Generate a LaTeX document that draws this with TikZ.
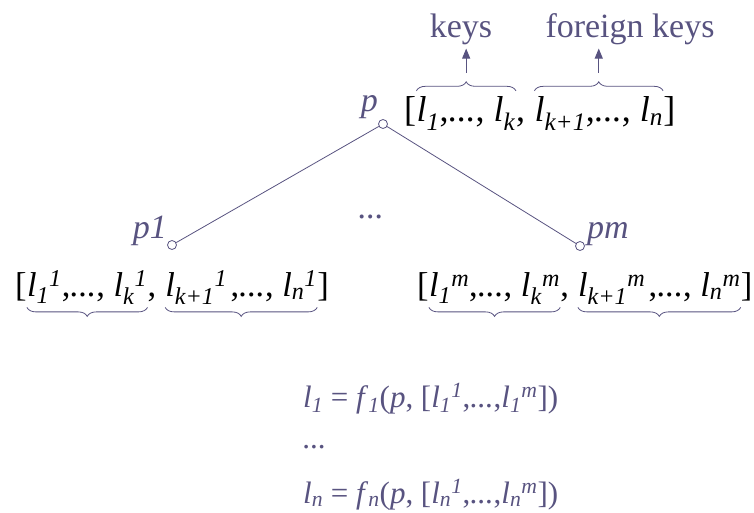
\documentclass[tikz,border=0pt]{standalone}
\usepackage{fontspec}
\setmainfont{Liberation Serif}
\usetikzlibrary{arrows.meta,positioning,decorations.pathreplacing}
\definecolor{ink}{RGB}{88,83,128}

\newcommand\lv[1]{\textit{l}\textsubscript{\textit{#1}}}
\newcommand\lvv[2]{\textit{l}\textsubscript{\textit{#1}}\textsuperscript{\textit{#2}}}
\newcommand\fv[1]{\textit{f}\textsubscript{\textit{#1}}}
\newcommand\dts{\textit{...}}

\begin{document}
\begin{tikzpicture}[x=1pt, y=-1pt,
  lbl/.style={text=ink, inner sep=0pt, font=\fontsize{34}{40}\selectfont},
  rec/.style={inner sep=0pt, font=\fontsize{36}{42}\selectfont},
  subrec/.style={inner sep=0pt, font=\fontsize{34.5}{40}\selectfont},
  eqn/.style={text=ink, inner sep=0pt, anchor=base west, font=\fontsize{31}{37}\selectfont},
  hole/.style={circle, draw=ink, fill=white, line width=0.8pt, inner sep=0pt, minimum size=9pt},
  link/.style={draw=ink, line width=0.8pt},
  brc/.style={draw=ink, line width=0.8pt, decorate, decoration={brace, amplitude=9pt, raise=#1}},
  arr/.style={-{Triangle[length=10pt,width=8pt]}, draw=ink, fill=ink, line width=1pt},
]
\useasboundingbox (0,0) rectangle (754,513);

% Parent record
\node[rec, anchor=base west] (t0) at (404,122) {[};
\node[rec, base right=0pt of t0] (t1) {\lv{1},\dts,~\lv{k}};
\node[rec, base right=0pt of t1] (t2) {,\kern.25em};
\node[rec, base right=0pt of t2] (t3) {\lv{k+1},\dts,~\lv{n}};
\node[rec, base right=0pt of t3] (t4) {]};
\node[lbl, anchor=base east] (p) at (378,112) {\textit{p}};
\node[hole] (pc) at (383,124) {};

\node[lbl, anchor=base] (keys) at (461,38) {keys};
\node[lbl, anchor=base] (fkeys) at (630,38) {foreign keys};
\draw[brc=6pt] (t1.north west) -- node[coordinate] (kt) {} (t1.north east);
\draw[brc=6pt] (t3.north west) -- node[coordinate] (ft) {} (t3.north east);
\draw[arr] ([yshift=24pt]kt) -- ([yshift=-3pt]keys.south -| kt);
\draw[arr] ([yshift=24pt]ft) -- ([yshift=-3pt]fkeys.south -| ft);

% Child records
\node[lbl, anchor=base east] (p1) at (167,238) {\textit{p1}};
\node[hole] (p1c) at (172,245) {};
\node[lbl, anchor=base west] (pm) at (587,238) {\textit{pm}};
\node[hole] (pmc) at (580,246) {};
\node[lbl, anchor=base] (gap) at (371,218) {\dts};

\node[subrec, anchor=base west] (a0) at (15,296) {[};
\node[subrec, base right=0pt of a0] (a1) {\lvv{1}{1},\dts,~\lvv{k}{1}};
\node[subrec, base right=0pt of a1] (a2) {,\kern.25em};
\node[subrec, base right=0pt of a2] (a3) {\lvv{k+1}{1}\kern.1em,\dts,~\lvv{n}{1}};
\node[subrec, base right=0pt of a3] (a4) {]};
\draw[brc=3pt] (a1.south east) -- (a1.south west);
\draw[brc=3pt] (a3.south east) -- (a3.south west);

\node[subrec, anchor=base west] (b0) at (417,296) {[};
\node[subrec, base right=0pt of b0] (b1) {\lvv{1}{m},\dts,~\lvv{k}{m}};
\node[subrec, base right=0pt of b1] (b2) {,\kern.25em};
\node[subrec, base right=0pt of b2] (b3) {\lvv{k+1}{m}\kern.1em,\dts,~\lvv{n}{m}};
\node[subrec, base right=0pt of b3] (b4) {]};
\draw[brc=3pt] (b1.south east) -- (b1.south west);
\draw[brc=3pt] (b3.south east) -- (b3.south west);

\draw[link] (pc) -- (p1c);
\draw[link] (pc) -- (pmc);

% Aggregation rules
\node[eqn] (e1) at (303,407) {\lv{1} = \fv{1}(\textit{p}, [\lvv{1}{1},\dts,\lvv{1}{m}])};
\node[eqn] (e2) at (303,448) {\dts};
\node[eqn] (e3) at (303,503) {\lv{n} = \fv{n}(\textit{p}, [\lvv{n}{1},\dts,\lvv{n}{m}])};
\end{tikzpicture}
\end{document}
